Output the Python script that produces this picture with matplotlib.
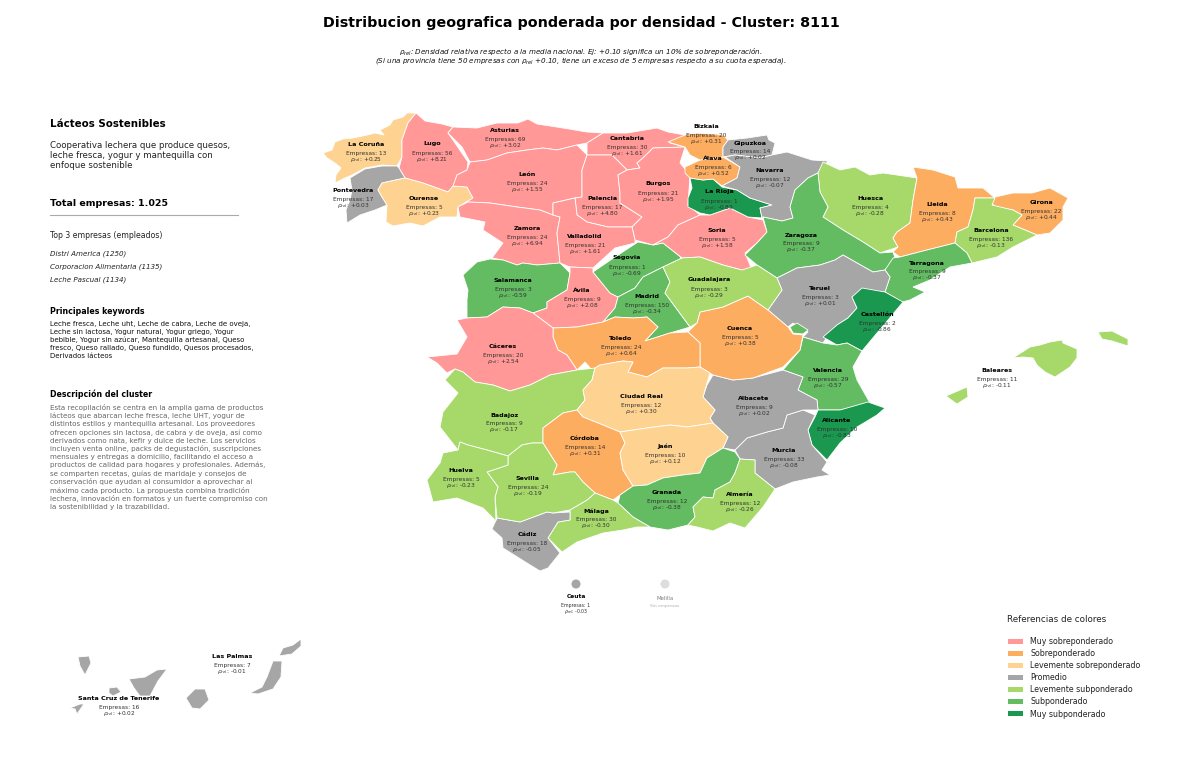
"""
Mapa de provincias, densidad relativa del cluster 8111
"""

# Third party imports
import matplotlib
matplotlib.use('Agg')
import matplotlib.pyplot as plt
from matplotlib.patches import Patch, Polygon, Circle

# outlines (pixel units)
s_coruna = [(416,113),(407,113),(403,117),(393,120),(390,125),(380,130),(384,135),(375,133),(367,135),(353,138),(343,139),(335,142),(332,150),(323,153),(327,158),(335,163),(341,168),(336,175),(335,183),(345,178),(352,175),(365,168),(382,165),(397,166),(402,157),(402,140),(408,123)]
s_lugo = [(416,113),(425,121),(442,124),(453,127),(448,133),(455,143),(468,162),(467,170),(457,175),(453,187),(448,192),(437,188),(423,183),(405,178),(399,168),(402,157),(402,140),(408,123)]
s_pontevedra = [(397,166),(382,166),(365,169),(350,178),(352,190),(350,200),(346,210),(347,223),(360,215),(375,210),(387,205),(382,197),(378,190),(382,183),(405,178),(399,168)]
s_ourense = [(382,183),(378,190),(382,197),(387,205),(386,222),(393,226),(410,223),(423,226),(440,217),(457,217),(458,207),(473,198),(467,187),(453,186),(448,192),(437,188),(423,183),(405,178)]
s_asturias = [(453,127),(477,128),(497,123),(518,123),(528,119),(537,124),(563,128),(587,132),(603,133),(587,143),(577,145),(557,150),(543,148),(527,150),(507,153),(487,160),(470,162),(462,147),(448,133)]
s_cantabria = [(603,133),(627,133),(657,128),(668,132),(685,135),(670,143),(685,147),(653,148),(643,158),(637,163),(640,168),(627,170),(612,155),(587,155),(587,143)]
s_leon = [(470,162),(487,160),(507,153),(527,150),(543,148),(557,150),(577,145),(587,155),(582,170),(582,197),(575,198),(553,203),(553,215),(540,210),(517,207),(490,203),(468,202),(458,207),(473,198),(467,187),(453,186),(457,175),(467,170)]
s_palencia = [(587,155),(612,155),(627,170),(618,175),(620,193),(620,203),(642,217),(632,227),(608,227),(587,222),(577,215),(575,198),(582,197),(582,170)]
s_burgos = [(627,170),(640,168),(637,163),(643,158),(653,148),(685,147),(680,163),(690,175),(688,205),(700,215),(678,225),(668,237),(653,245),(635,240),(632,227),(642,217),(620,203),(620,193),(618,175)]
s_zamora = [(458,207),(468,202),(490,203),(517,207),(540,210),(553,215),(560,217),(557,233),(560,263),(537,265),(523,263),(517,265),(503,260),(492,258),(503,243),(483,230),(485,222),(460,217)]
s_valladolid = [(553,203),(575,198),(577,215),(587,222),(608,227),(632,227),(635,240),(635,243),(615,248),(593,268),(570,267),(560,263),(557,233),(560,217),(553,215)]
s_salamanca = [(463,275),(477,262),(490,259),(503,260),(517,265),(523,263),(537,265),(560,263),(570,273),(567,290),(547,302),(547,308),(533,313),(520,308),(503,307),(487,317),(467,318),(467,300),(468,290)]
s_avila = [(570,267),(593,268),(593,272),(610,293),(618,297),(615,308),(603,322),(577,327),(553,328),(533,313),(547,308),(547,302),(567,290),(570,273)]
s_segovia = [(593,272),(615,257),(638,242),(653,245),(663,243),(682,258),(663,267),(643,277),(635,288),(618,297),(610,293)]
s_madrid = [(663,267),(670,282),(665,293),(690,327),(670,333),(645,341),(658,327),(647,317),(633,318),(615,317),(603,322),(615,308),(618,297),(635,288),(643,277)]
s_soria = [(700,215),(710,215),(730,208),(748,217),(763,220),(767,232),(757,243),(745,253),(752,270),(742,270),(723,265),(700,257),(682,258),(663,243),(653,245),(668,237),(678,225)]
s_rioja = [(690,178),(703,180),(713,179),(722,187),(737,190),(750,198),(772,205),(760,208),(762,218),(748,217),(730,208),(710,215),(700,213),(688,207),(688,198),(692,188)]
s_alava = [(685,167),(700,160),(723,157),(740,167),(737,178),(722,186),(713,179),(703,180),(690,178),(685,173)]
s_bizkaia = [(668,142),(685,135),(697,133),(723,135),(728,140),(723,147),(723,157),(700,160),(690,155),(685,147)]
s_gipuzkoa = [(728,140),(747,138),(767,135),(769,140),(775,143),(772,155),(760,158),(735,155),(723,157),(723,147)]
s_navarra = [(725,157),(735,155),(760,158),(772,155),(787,152),(812,160),(828,161),(818,173),(808,178),(795,190),(790,207),(793,218),(782,221),(763,217),(762,218),(760,208),(772,205),(750,198),(737,190),(722,186),(737,178),(740,167)]
s_huesca = [(823,162),(840,170),(855,167),(870,175),(883,173),(897,175),(917,178),(913,200),(910,223),(897,232),(893,238),(898,247),(880,253),(863,242),(843,230),(823,217),(828,207),(820,192),(818,173)]
s_zaragoza = [(818,173),(820,192),(828,207),(823,217),(843,230),(863,242),(880,253),(893,252),(895,258),(885,270),(873,272),(857,263),(843,255),(835,260),(820,265),(797,268),(777,278),(757,265),(745,255),(757,243),(767,232),(763,217),(782,221),(793,218),(790,207),(795,190),(808,178)]
s_lleida = [(913,167),(933,170),(955,177),(958,188),(973,188),(983,188),(995,198),(975,198),(973,210),(968,227),(957,232),(955,243),(927,250),(900,257),(893,252),(898,247),(893,238),(897,232),(910,223),(913,200),(917,178)]
s_girona = [(995,197),(1013,193),(1032,193),(1050,188),(1068,198),(1063,207),(1063,220),(1050,233),(1037,235),(1013,225),(1022,215),(1013,210),(995,207),(992,203)]
s_barcelona = [(975,198),(995,198),(992,205),(1013,210),(1022,215),(1013,225),(1037,235),(1013,247),(997,257),(972,263),(967,253),(955,243),(957,232),(968,227),(973,210)]
s_tarragona = [(893,258),(900,257),(927,250),(955,243),(967,253),(972,263),(950,267),(930,280),(913,287),(925,292),(910,300),(902,302),(885,292),(890,277),(885,270)]
s_teruel = [(777,278),(797,268),(820,265),(835,260),(843,255),(857,263),(873,272),(885,270),(890,277),(885,292),(860,292),(852,297),(857,308),(848,318),(837,325),(827,337),(823,343),(803,337),(808,332),(793,323),(788,327),(768,310),(782,290)]
s_ademuz = [(790,327),(797,323),(808,330),(803,334),(793,333)]
s_castellon = [(862,288),(885,292),(903,302),(888,320),(877,333),(862,351),(847,343),(837,345),(823,337),(837,325),(848,318),(857,308),(852,297)]
s_valencia = [(803,337),(823,343),(837,345),(847,343),(862,351),(853,367),(857,380),(870,403),(840,410),(818,410),(817,400),(798,390),(803,377),(783,370),(800,350)]
s_alicante = [(818,410),(840,410),(868,402),(885,408),(877,415),(857,427),(840,443),(827,460),(812,445),(808,430),(815,417)]
s_murcia = [(735,450),(747,438),(767,432),(783,428),(787,415),(803,410),(815,415),(808,430),(812,445),(827,462),(822,470),(830,475),(817,477),(793,482),(775,489),(755,473),(755,460),(740,459)]
s_albacete = [(713,375),(733,380),(753,378),(783,370),(803,377),(798,390),(817,400),(818,410),(803,410),(787,415),(783,428),(767,432),(747,438),(735,450),(723,448),(728,437),(713,423),(710,418),(715,410),(703,397),(707,385)]
s_cuenca = [(688,332),(697,323),(700,312),(723,307),(748,296),(768,310),(788,327),(793,334),(803,335),(800,350),(783,367),(753,378),(733,380),(713,375),(700,367),(700,343)]
s_guadalajara = [(680,258),(700,257),(723,265),(742,270),(757,265),(777,278),(782,290),(768,310),(748,296),(723,307),(700,312),(697,323),(690,327),(665,293),(670,282),(663,267),(682,258)]
s_toledo = [(553,328),(577,327),(603,322),(615,317),(633,318),(647,317),(658,327),(645,341),(670,333),(688,332),(700,343),(700,367),(687,368),(663,368),(647,377),(628,372),(633,362),(623,361),(600,365),(592,370),(585,362),(577,370),(567,355),(558,350),(553,337)]
s_caceres = [(457,320),(467,318),(487,317),(503,307),(520,308),(533,313),(553,328),(553,337),(558,350),(567,355),(577,370),(550,375),(530,385),(510,391),(493,385),(475,382),(463,372),(455,369),(447,373),(437,363),(427,357),(457,354),(467,337),(463,330)]
s_badajoz = [(595,368),(592,380),(583,390),(585,400),(577,410),(563,413),(543,428),(543,443),(532,443),(522,445),(508,456),(487,450),(468,445),(460,442),(458,450),(440,427),(443,412),(458,393),(445,380),(455,369),(463,372),(475,382),(493,385),(510,391),(530,385),(550,375),(577,370)]
s_ciudad_real = [(595,368),(600,365),(623,361),(633,362),(628,372),(647,377),(663,368),(687,368),(700,367),(710,373),(703,397),(715,410),(710,418),(713,423),(687,427),(670,425),(647,428),(620,432),(603,425),(583,417),(577,410),(585,400),(583,390),(592,380)]
s_cordoba = [(577,410),(583,417),(603,425),(620,432),(625,443),(620,453),(623,470),(633,486),(620,495),(613,500),(595,493),(583,482),(575,472),(570,472),(553,475),(557,465),(543,443),(543,428),(563,413)]
s_jaen = [(620,432),(647,428),(670,425),(687,427),(713,423),(728,437),(723,448),(707,458),(700,473),(683,475),(663,478),(647,485),(633,486),(623,470),(620,453),(625,443)]
s_granada = [(723,448),(735,452),(740,459),(735,473),(730,482),(715,490),(713,498),(703,497),(693,507),(695,517),(688,525),(668,530),(650,527),(633,517),(618,503),(620,495),(633,486),(647,485),(663,478),(683,475),(700,473),(707,458)]
s_almeria = [(740,459),(755,460),(755,473),(775,489),(763,507),(745,528),(730,523),(713,531),(697,527),(688,525),(695,517),(693,507),(703,497),(713,498),(715,490),(730,482),(735,473)]
s_malaga = [(613,500),(595,493),(587,500),(570,510),(570,520),(558,522),(548,538),(562,552),(577,542),(603,533),(623,530),(637,527),(650,527),(633,517),(618,503)]
s_cadiz = [(497,518),(520,522),(547,512),(553,513),(570,512),(570,520),(558,522),(548,538),(560,553),(548,568),(540,571),(527,563),(503,548),(502,538),(492,529)]
s_sevilla = [(487,472),(508,465),(508,456),(522,445),(532,443),(543,443),(557,465),(553,475),(570,472),(575,472),(583,482),(595,493),(587,500),(570,510),(553,513),(547,512),(520,522),(497,518),(495,497),(498,487)]
s_huelva = [(460,442),(468,445),(487,450),(508,456),(508,465),(487,472),(498,487),(495,497),(496,521),(483,508),(457,498),(433,502),(427,480),(440,463),(443,453),(458,450)]
s_mallorca = [(1013,358),(1030,347),(1040,345),(1050,342),(1062,340),(1063,343),(1077,349),(1077,358),(1070,367),(1055,377),(1045,372),(1037,365),(1033,358),(1023,357)]
s_menorca = [(1098,332),(1112,331),(1128,339),(1128,346),(1112,341),(1102,339)]
s_ibiza = [(946,396),(967,387),(968,397),(957,404),(950,399)]
s_tenerife = [(129,679),(145,677),(157,670),(167,669),(158,681),(150,696),(140,696),(134,688)]
s_gomera = [(109,688),(117,687),(121,692),(113,696),(109,693)]
s_la_palma = [(78,657),(89,656),(91,663),(85,675),(80,666)]
s_hierro = [(70,708),(80,704),(84,704),(77,714),(75,709)]
s_gran_canaria = [(195,689),(205,689),(209,700),(200,709),(192,708),(186,698)]
s_fuerteventura = [(250,693),(262,687),(267,677),(273,661),(282,661),(281,677),(273,689),(258,694)]
s_lanzarote = [(279,656),(283,648),(293,645),(301,639),(301,646),(292,654)]

# one row per province
names = ['La Coruña', 'Lugo', 'Pontevedra', 'Ourense', 'Asturias', 'Cantabria', 'León', 'Palencia', 'Burgos',
         'Zamora', 'Valladolid', 'Salamanca', 'Ávila', 'Segovia', 'Madrid', 'Soria', 'La Rioja', 'Álava',
         'Bizkaia', 'Gipuzkoa', 'Navarra', 'Huesca', 'Zaragoza', 'Lleida', 'Girona', 'Barcelona', 'Tarragona',
         'Teruel', 'Castellón', 'Valencia', 'Alicante', 'Murcia', 'Albacete', 'Cuenca', 'Guadalajara', 'Toledo',
         'Cáceres', 'Badajoz', 'Ciudad Real', 'Córdoba', 'Jaén', 'Granada', 'Almería', 'Málaga', 'Cádiz',
         'Sevilla', 'Huelva', 'Baleares', 'Santa Cruz de Tenerife', 'Las Palmas']
empresas = [13, 56, 17, 5, 69, 30, 24, 17, 21,
            24, 21, 3, 9, 1, 150, 5, 1, 6,
            20, 14, 12, 4, 9, 8, 22, 136, 9,
            3, 2, 29, 10, 33, 9, 5, 3, 24,
            20, 9, 12, 14, 10, 12, 12, 30, 18,
            24, 5, 11, 16, 7]
rho = [0.25, 8.21, 0.03, 0.23, 3.02, 1.61, 1.55, 4.80, 1.95,
       6.94, 1.61, -0.59, 2.08, -0.69, -0.34, 1.58, -0.89, 0.52,
       0.31, 0.02, -0.07, -0.28, -0.37, 0.43, 0.44, -0.13, -0.37,
       0.01, -0.86, -0.57, -0.83, -0.08, 0.02, 0.38, -0.29, 0.64,
       2.54, -0.17, 0.30, 0.31, 0.12, -0.38, -0.26, -0.30, -0.05,
       -0.19, -0.23, -0.11, 0.02, -0.01]
shapes = [[s_coruna], [s_lugo], [s_pontevedra], [s_ourense], [s_asturias], [s_cantabria], [s_leon], [s_palencia], [s_burgos],
          [s_zamora], [s_valladolid], [s_salamanca], [s_avila], [s_segovia], [s_madrid], [s_soria], [s_rioja], [s_alava],
          [s_bizkaia], [s_gipuzkoa], [s_navarra], [s_huesca], [s_zaragoza], [s_lleida], [s_girona], [s_barcelona], [s_tarragona],
          [s_teruel], [s_castellon], [s_valencia, s_ademuz], [s_alicante], [s_murcia], [s_albacete], [s_cuenca], [s_guadalajara], [s_toledo],
          [s_caceres], [s_badajoz], [s_ciudad_real], [s_cordoba], [s_jaen], [s_granada], [s_almeria], [s_malaga], [s_cadiz],
          [s_sevilla], [s_huelva], [s_mallorca, s_menorca, s_ibiza],
          [s_tenerife, s_gomera, s_la_palma, s_hierro], [s_gran_canaria, s_fuerteventura, s_lanzarote]]
label_x = [366, 432, 353, 424, 505, 627, 527, 602, 658,
           527, 585, 513, 582, 627, 647, 717, 719, 713,
           706, 750, 770, 870, 801, 937, 1041, 991, 927,
           820, 877, 828, 837, 784, 754, 740, 709, 621,
           503, 504, 641, 585, 665, 667, 740, 596, 527,
           528, 461, 997, 119, 232]
label_y = [145, 144, 191, 198, 131, 138, 175, 199, 184,
           229, 237, 281, 290, 258, 297, 231, 192, 159,
           127, 143, 171, 198, 235, 205, 202, 230, 263,
           289, 314, 370, 421, 450, 399, 328, 280, 338,
           346, 415, 397, 439, 446, 493, 494, 511, 534,
           478, 471, 371, 698, 656]

legend_labels = ['Muy sobreponderado', 'Sobreponderado', 'Levemente sobreponderado', 'Promedio',
                 'Levemente subponderado', 'Subponderado', 'Muy subponderado']
legend_colors = ['#ff9896', '#fdad60', '#fed391', '#a6a6a6', '#a6d96a', '#63bb62', '#1a9850']

text_title = 'Distribucion geografica ponderada por densidad - Cluster: 8111'
text_note = [r'$\rho_{rel}$: Densidad relativa respecto a la media nacional. Ej: +0.10 significa un 10% de sobreponderación.',
             r'(Si una provincia tiene 50 empresas con $\rho_{rel}$ +0.10, tiene un exceso de 5 empresas respecto a su cuota esperada).']
text_about = ['Cooperativa lechera que produce quesos,', 'leche fresca, yogur y mantequilla con', 'enfoque sostenible']
top_firms = ['Distri America (1250)', 'Corporacion Alimentaria (1135)', 'Leche Pascual (1134)']
text_keywords = ['Leche fresca, Leche uht, Leche de cabra, Leche de oveja,',
                 'Leche sin lactosa, Yogur natural, Yogur griego, Yogur',
                 'bebible, Yogur sin azúcar, Mantequilla artesanal, Queso',
                 'fresco, Queso rallado, Queso fundido, Quesos procesados,',
                 'Derivados lácteos']
text_desc = ['Esta recopilación se centra en la amplia gama de productos',
             'lácteos que abarcan leche fresca, leche UHT, yogur de',
             'distintos estilos y mantequilla artesanal. Los proveedores',
             'ofrecen opciones sin lactosa, de cabra y de oveja, así como',
             'derivados como nata, kefir y dulce de leche. Los servicios',
             'incluyen venta online, packs de degustación, suscripciones',
             'mensuales y entregas a domicilio, facilitando el acceso a',
             'productos de calidad para hogares y profesionales. Además,',
             'se comparten recetas, guías de maridaje y consejos de',
             'conservación que ayudan al consumidor a aprovechar al',
             'máximo cada producto. La propuesta combina tradición',
             'lechera, innovación en formatos y un fuerte compromiso con',
             'la sostenibilidad y la trazabilidad.']


def get_color(value):
    if value >= 1:
        return legend_colors[0]
    if value > 0.30:
        return legend_colors[1]
    if value >= 0.10:
        return legend_colors[2]
    if value > -0.10:
        return legend_colors[3]
    if value >= -0.30:
        return legend_colors[4]
    if value >= -0.75:
        return legend_colors[5]
    return legend_colors[6]


def add_label(ax, x, y, name, count, value):
    ax.text(x, y, name, ha='center', va='center', fontsize=4.6, fontweight='bold', color='black')
    ax.text(x, y + 9, 'Empresas: {}'.format(count), ha='center', va='center', fontsize=4.2, color='#333333')
    ax.text(x, y + 15, r'$\rho_{{rel}}$: {:+.2f}'.format(value), ha='center', va='center', fontsize=4.2, color='#333333')


if __name__ == '__main__':
    fig = plt.figure(figsize=(12, 7.61), dpi=100)
    ax = fig.add_axes([0, 0, 1, 1])
    ax.set_xlim(0, 1200)
    ax.set_ylim(761, 0)
    ax.axis('off')

    """Map"""

    for parts, value in zip(shapes, rho):
        for part in parts:
            ax.add_patch(Polygon(part, closed=True, facecolor=get_color(value),
                                 edgecolor='white', linewidth=0.6, zorder=1))

    for x, y, name, count, value in zip(label_x, label_y, names, empresas, rho):
        add_label(ax, x, y, name, count, value)

    # Ceuta y Melilla
    ax.add_patch(Circle((576, 584), 4.5, facecolor='#a6a6a6', edgecolor='none'))
    ax.add_patch(Circle((665, 584), 4.5, facecolor='#dddddd', edgecolor='none'))
    ax.text(576, 597, 'Ceuta', ha='center', va='center', fontsize=4.2, fontweight='bold')
    ax.text(576, 606, 'Empresas: 1', ha='center', va='center', fontsize=3.4, color='#333333')
    ax.text(576, 611, r'$\rho_{rel}$: -0.03', ha='center', va='center', fontsize=3.4, color='#333333')
    ax.text(665, 599, 'Melilla', ha='center', va='center', fontsize=3.9, color='#808080')
    ax.text(665, 606, 'Sin empresas', ha='center', va='center', fontsize=3.2, color='#b0b0b0')

    """Header"""

    ax.text(581, 23, text_title, ha='center', va='center', fontsize=10.3, fontweight='bold')
    for y, line in zip([52, 61], text_note):
        ax.text(581, y, line, ha='center', va='center', fontsize=5.1, style='italic', color='#111111')

    """Left column"""

    ax.text(50, 124, 'Lácteos Sostenibles', va='center', fontsize=7.4, fontweight='bold')
    for y, line in zip([146, 156, 165], text_about):
        ax.text(50, y, line, va='center', fontsize=6.25, color='#222222')
    ax.text(50, 203, 'Total empresas: 1.025', va='center', fontsize=6.8, fontweight='bold')
    ax.plot([50, 238], [215, 215], color='#aaaaaa', linewidth=0.8)
    ax.text(50, 236, 'Top 3 empresas (empleados)', va='center', fontsize=5.6, color='#222222')
    for y, line in zip([254, 267, 280], top_firms):
        ax.text(50, y, line, va='center', fontsize=5.1, style='italic', color='#222222')
    ax.text(50, 311, 'Principales keywords', va='center', fontsize=5.7, fontweight='bold')
    for y, line in zip([324, 332, 340, 348, 356], text_keywords):
        ax.text(50, y, line, va='center', fontsize=5.05, color='#111111')
    ax.text(50, 394, 'Descripción del cluster', va='center', fontsize=5.7, fontweight='bold')
    for i, line in enumerate(text_desc):
        ax.text(50, 407.5 + i * 8.25, line, va='center', fontsize=5.15, color='#666666')

    """Legend"""

    ax.text(1007, 619, 'Referencias de colores', va='center', fontsize=6.3, color='#222222')
    handles = [Patch(facecolor=c, edgecolor='none') for c in legend_colors]
    leg = ax.legend(handles, legend_labels, loc='upper left', bbox_to_anchor=(1008 / 1200, 1 - 637 / 761),
                    frameon=False, fontsize=5.7, handlelength=1.9, handleheight=0.63,
                    labelspacing=0.39, handletextpad=0.88, borderpad=0, borderaxespad=0)
    for t in leg.get_texts():
        t.set_color('#222222')

    fig.savefig('out.png', dpi=100)
